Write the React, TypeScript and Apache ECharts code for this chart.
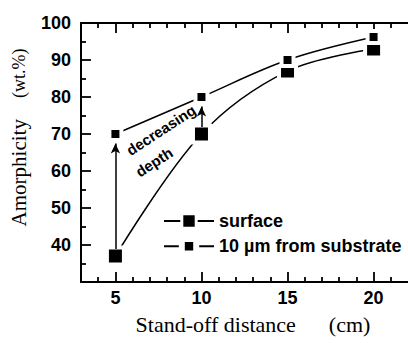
import React, { useEffect, useRef } from "react";
import * as echarts from "echarts";

const distances = [5, 10, 15, 20];
const surfaceValues = [37, 70, 87, 93];
const substrateValues = [70, 80, 90, 96.2];
const xMajorTicks = [5, 10, 15, 20];
const xMinorTicks = [4, 6, 7, 8, 9, 11, 12, 13, 14, 16, 17, 18, 19, 21];
const arrowX = [5, 10];
const arrowFrom = [38.9, 71.9];
const arrowTo = [67.4, 77.4];

const SANS = "Liberation Sans";
const SERIF = "Liberation Serif";
const NB = "\u00a0";

export default function App() {
  const ref = useRef<HTMLDivElement>(null);
  useEffect(() => {
    if (!ref.current) return;
    const chart = echarts.init(ref.current, undefined, { renderer: "svg" });
    const tickFont = { fontSize: 18, fontWeight: "bold" as const, fontFamily: SANS, color: "#000" };
    const common = { type: "value" as const, min: 3, max: 22, splitLine: { show: false } };
    const axisLine = { show: true, onZero: false, lineStyle: { color: "#000", width: 2 } };
    const tickLine = { color: "#000", width: 1.8 };
    chart.setOption({
      animation: false,
      textStyle: { fontFamily: SANS },
      grid: { left: 79, right: -1, top: 23, bottom: 61 },
      xAxis: [
        {
          ...common,
          position: "bottom",
          axisLine,
          axisTick: { inside: true, length: 10, lineStyle: tickLine, customValues: xMajorTicks },
          axisLabel: { ...tickFont, margin: 7, customValues: xMajorTicks },
          name: "Stand-off distance" + NB.repeat(6) + "(cm)",
          nameLocation: "middle",
          nameGap: 31,
          nameTextStyle: { fontSize: 22, fontFamily: SERIF, color: "#000", padding: [0, 0, 0, 17] },
        },
        {
          ...common,
          position: "bottom",
          axisLine: { show: false },
          axisTick: { inside: true, length: 5, lineStyle: tickLine, customValues: xMinorTicks },
          axisLabel: { show: false },
        },
        {
          ...common,
          position: "top",
          axisLine,
          axisTick: { inside: true, length: 10, lineStyle: tickLine, customValues: xMajorTicks },
          axisLabel: { show: false },
        },
        {
          ...common,
          position: "top",
          axisLine: { show: false },
          axisTick: { inside: true, length: 5, lineStyle: tickLine, customValues: xMinorTicks },
          axisLabel: { show: false },
        },
      ],
      yAxis: {
        type: "value",
        min: 30,
        max: 100,
        interval: 10,
        splitLine: { show: false },
        axisLine,
        axisTick: { inside: true, length: 10, lineStyle: tickLine },
        minorTick: { show: true, splitNumber: 2, length: 5, lineStyle: tickLine },
        minorSplitLine: { show: false },
        axisLabel: { ...tickFont, margin: 10, showMinLabel: false },
        name: "{a|Amorphicity}" + NB.repeat(4) + "{b|(wt.%)}",
        nameLocation: "middle",
        nameGap: 52,
        nameTextStyle: {
          fontSize: 21,
          fontFamily: SERIF,
          color: "#000",
          padding: [0, 0, 0, 30],
          rich: {
            a: { fontSize: 21, fontFamily: SERIF, color: "#000" },
            b: { fontSize: 18, fontFamily: SERIF, color: "#000" },
          },
        },
      },
      legend: {
        orient: "vertical",
        left: 158,
        top: 207,
        itemWidth: 50,
        itemHeight: 18,
        itemGap: 6,
        selectedMode: false,
        textStyle: { fontSize: 18, fontWeight: "bold", fontFamily: SANS, color: "#000" },
        data: [
          { name: "surface", itemStyle: { borderWidth: 3 } },
          { name: "10 µm from substrate", itemStyle: { borderWidth: 6 } },
        ],
      },
      series: [
        {
          name: "surface",
          type: "line",
          data: distances.map((d, i) => [d, surfaceValues[i]]),
          smooth: 0.35,
          symbol: "rect",
          symbolSize: 17,
          itemStyle: { color: "#000", borderColor: "#fff", borderWidth: 4 },
          lineStyle: { color: "#000", width: 1.5 },
          emphasis: { disabled: true },
          z: 2,
        },
        {
          name: "10 µm from substrate",
          type: "line",
          data: distances.map((d, i) => [d, substrateValues[i]]),
          smooth: 0.35,
          symbol: "rect",
          symbolSize: 12,
          itemStyle: { color: "#000", borderColor: "#fff", borderWidth: 4 },
          lineStyle: { color: "#000", width: 1.5 },
          emphasis: { disabled: true },
          z: 3,
        },
        {
          name: "arrows",
          type: "line",
          data: [],
          silent: true,
          z: 10,
          markLine: {
            silent: true,
            symbol: ["none", "arrow"],
            symbolSize: [7, 10],
            lineStyle: { color: "#000", width: 1.5, type: "solid" },
            label: { show: false },
            emphasis: { disabled: true },
            data: arrowX.map((x, i) => [{ coord: [x, arrowFrom[i]] }, { coord: [x, arrowTo[i]] }]),
          },
        },
      ],
      graphic: [
        {
          type: "text",
          x: 161,
          y: 130,
          rotation: (33 * Math.PI) / 180,
          style: { text: "decreasing", fontSize: 15, fontWeight: "bold", fontFamily: SANS, fill: "#000", align: "center", verticalAlign: "middle" },
        },
        {
          type: "text",
          x: 154,
          y: 162,
          rotation: (33 * Math.PI) / 180,
          style: { text: "depth", fontSize: 15, fontWeight: "bold", fontFamily: SANS, fill: "#000", align: "center", verticalAlign: "middle" },
        },
      ],
    });
    return () => chart.dispose();
  }, []);
  return (
    <div
      ref={ref}
      style={{ position: "fixed", left: 0, top: 0, width: 408, height: 343, background: "#fff" }}
    />
  );
}
